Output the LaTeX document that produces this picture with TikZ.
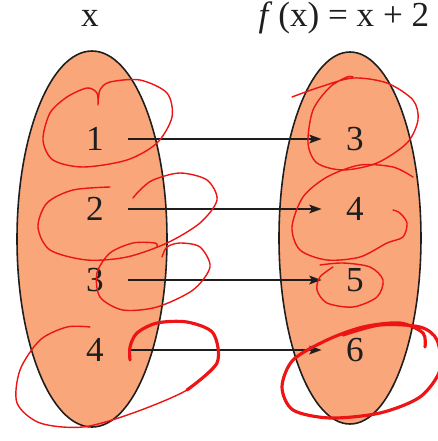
\documentclass[tikz,border=0pt]{standalone}
\usepackage{fontspec}
\setmainfont{Liberation Serif}
\usetikzlibrary{arrows.meta,positioning}
\definecolor{ink}{RGB}{30,30,30}
\definecolor{salmon}{RGB}{249,166,122}
\definecolor{pen}{RGB}{236,20,20}
\tikzset{
  every picture/.style={color=ink, line width=0.5pt},
  set/.style={draw=ink, fill=salmon, line width=0.9pt},
  num/.style={font=\fontsize{20}{22}\selectfont, inner sep=0pt, minimum width=1.32cm, minimum height=0.5cm},
  head/.style={font=\fontsize{20}{22}\selectfont, inner sep=0pt},
  map/.style={-{Stealth[length=7pt,width=5pt,inset=1.5pt]}, line width=0.8pt},
  scrib/.style={draw=pen, line width=0.8pt, line cap=round, line join=round},
  thick scrib/.style={scrib, line width=1.8pt},
}
\begin{document}
\begin{tikzpicture}[x=0.02cm, y=-0.02cm]
  \useasboundingbox (0,0) rectangle (438,441);
  % headings
  \node[head] (hx) at (90,18) {x};
  \node[head] (hf) at (344,18) {\textit{f}\,(x) = x + 2};
  % the two sets
  \draw[set] (92,239) ellipse [x radius=75, y radius=188];
  \draw[set] (350,238) ellipse [x radius=71, y radius=186];
  % domain and range
  \node[num] (a1) at (95,139) {1};
  \node[num] (a2) at (95,209) {2};
  \node[num] (a3) at (95,280) {3};
  \node[num] (a4) at (95,350) {4};
  \node[num] (b1) at (355,139) {3};
  \node[num] (b2) at (355,209) {4};
  \node[num] (b3) at (355,280) {5};
  \node[num] (b4) at (355,350) {6};
  \foreach \i in {1,...,4}
    \draw[map] (a\i.east) -- (b\i.west);
  % red marks
  \draw[scrib] plot[smooth] coordinates {(98,105) (100,90) (110,82) (140,80) (167,93) (172,117) (157,143) (127,160) (83,167) (53,160) (43,140) (50,113) (67,97) (87,88) (97,93) (98,105)};
  \draw[scrib] plot[smooth] coordinates {(110,187) (73,190) (47,203) (38,227) (50,250) (87,260) (127,257) (167,243) (200,223) (217,200) (207,180) (180,173) (153,180) (140,190) (133,198)};
  \draw[scrib] plot[smooth] coordinates {(157,247) (155,243) (133,243) (110,253) (97,273) (100,297) (123,310) (157,307) (193,290) (210,267) (200,247) (180,243) (167,247) (162,257)};
  \draw[scrib] plot[smooth] coordinates {(90,327) (67,327) (40,340) (20,370) (17,403) (40,423) (83,427) (133,413) (187,390) (217,363)};
  \draw[thick scrib] plot[smooth] coordinates {(187,390) (217,363) (213,333) (187,322) (157,323) (137,333) (130,347) (130,360)};
  \draw[scrib] plot[smooth] coordinates {(292,97) (320,87) (353,78) (387,83) (413,100) (418,120) (407,143) (377,163) (343,170) (317,163) (308,143) (313,110) (330,87) (347,77) (353,77)};
  \draw[scrib] plot[smooth] coordinates {(413,177) (393,167) (360,165) (327,177) (303,197) (292,227) (300,250) (327,260) (360,257) (387,243) (403,237) (407,223) (400,213) (393,210)};
  \draw[scrib] plot[smooth] coordinates {(320,265) (343,263) (370,267) (383,280) (377,297) (353,307) (327,303) (317,290) (320,277) (333,267)};
  \draw[thick scrib] plot[smooth] coordinates {(343,335) (380,325) (420,327) (437,340) (440,370) (420,397) (380,413) (330,418) (293,410) (282,387) (293,360) (327,340) (363,327) (400,323) (423,333) (425,347)};
\end{tikzpicture}
\end{document}
